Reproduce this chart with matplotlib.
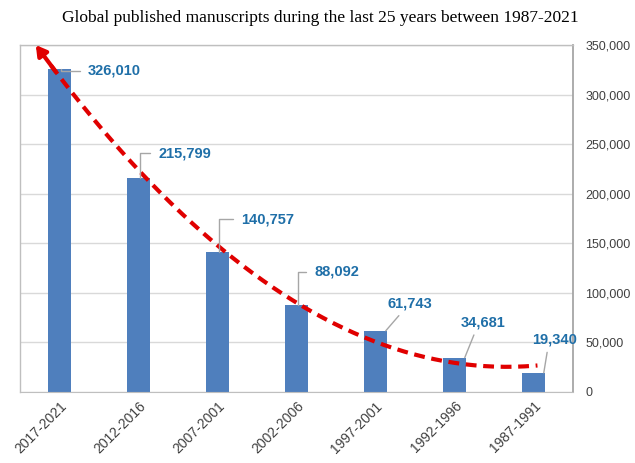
import numpy as np
import matplotlib.pyplot as plt
from matplotlib.ticker import FuncFormatter

plt.rcParams["font.family"] = ["Liberation Sans", "DejaVu Sans"]

periods = ["2017-2021", "2012-2016", "2007-2001", "2002-2006",
           "1997-2001", "1992-1996", "1987-1991"]
papers = [326010, 215799, 140757, 88092, 61743, 34681, 19340]

# label offsets in pixels (dx, dy) from bar top, and whether the label sits to the right
label_dx = [27, 18, 22, 16, 24, 18, 11]
label_dy = [-2, 25, 33, 33, 27, 35, 33]
side = [True, True, True, True, False, False, False]

bar_color = "#4f7fbd"
label_color = "#1f6fa8"
grid_color = "#d9d9d9"
text_gray = "#404040"

fig = plt.figure(figsize=(6.35, 4.63), dpi=100)
ax = fig.add_axes([20 / 635, 71 / 463, 553 / 635, 347 / 463])

x = np.arange(len(periods))
ax.bar(x, papers, width=0.3, color=bar_color, zorder=2)

ax.set_xlim(-0.5, 6.5)
ax.set_ylim(0, 350000)
ax.yaxis.tick_right()
ax.set_yticks(np.arange(0, 350001, 50000))
ax.yaxis.set_major_formatter(FuncFormatter(lambda v, p: f"{int(v):,}"))
ax.tick_params(axis="y", length=0, pad=9, labelsize=9, labelcolor=text_gray)
ax.set_xticks(x)
ax.set_xticklabels(periods, rotation=45, ha="right", rotation_mode="anchor",
                   fontsize=10, color=text_gray)
ax.tick_params(axis="x", length=0, pad=5)
ax.grid(axis="y", color=grid_color, linewidth=1, zorder=0)
for s in ["left", "top"]:
    ax.spines[s].set_color("#bfbfbf")
    ax.spines[s].set_linewidth(1)
ax.spines["right"].set_color("#a6a6a6")
ax.spines["bottom"].set_color("#bfbfbf")
ax.spines["right"].set_linewidth(1.3)

# data labels with leader lines
for i, v in enumerate(papers):
    if side[i]:
        ax.annotate(f"{v:,}", xy=(i + 0.02, v), xytext=(label_dx[i] / 1.389, label_dy[i] / 1.389),
                    textcoords="offset points", ha="left", va="center",
                    fontsize=10.5, fontweight="bold", color=label_color,
                    arrowprops=dict(arrowstyle="-", color="#a6a6a6", lw=1,
                                    shrinkA=4, shrinkB=0, relpos=(0, 0.5),
                                    connectionstyle="angle,angleA=0,angleB=90,rad=0"),
                    zorder=4)
    else:
        ax.annotate(f"{v:,}", xy=(i + 0.13, v), xytext=(label_dx[i] / 1.389, label_dy[i] / 1.389),
                    textcoords="offset points", ha="center", va="center",
                    fontsize=10.5, fontweight="bold", color=label_color,
                    arrowprops=dict(arrowstyle="-", color="#a6a6a6", lw=1,
                                    shrinkA=2, shrinkB=0, relpos=(0.35, 0)),
                    zorder=4)

# second-order polynomial trend, extended a little before the first period
coef = np.polyfit(x, papers, 2)
xt = np.linspace(-0.3, 6.05, 200)
yt = np.polyval(coef, xt)
ax.plot(xt[6:], yt[6:], color="#e00000", lw=3, ls=(0, (2.6, 1.6)), zorder=3, clip_on=False)
ax.annotate("", xy=(xt[0], yt[0]), xytext=(xt[8], yt[8]),
            arrowprops=dict(arrowstyle="-|>,head_length=0.6,head_width=0.35",
                            color="#e00000", lw=3, shrinkA=0, shrinkB=0),
            annotation_clip=False, zorder=3)

fig.text(0.505, 0.962, "Global published manuscripts during the last 25 years between 1987-2021",
         ha="center", va="center", fontsize=12.5, family="Liberation Serif")

fig.savefig("out.png", dpi=100)
